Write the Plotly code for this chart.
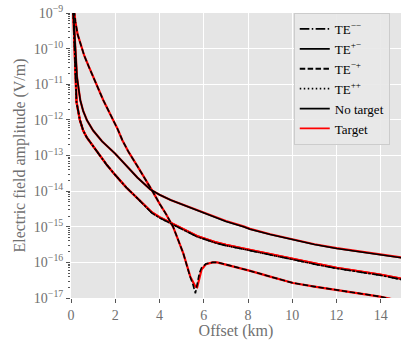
import plotly.graph_objects as go

# Offsets (km) and log10 amplitudes
x_mp = [0.1, 0.15, 0.2, 0.3, 0.42, 0.6, 0.8, 1.0, 1.25, 1.46, 1.7, 1.91, 2.1, 2.32, 2.6, 3.0, 3.3,
        3.66, 4.0, 4.3, 4.62, 5.07, 5.39, 5.5, 5.62, 5.7, 5.8, 5.9, 6.1, 6.4, 6.6, 7.0, 7.33, 8.1,
        9.0, 10.04, 11.0, 12.0, 13.0, 13.96, 15.0]
te_mp_nt = [-8.7, -9.0, -9.25, -9.6, -9.85, -10.2, -10.5, -10.8, -11.15, -11.45, -11.75, -12.01,
            -12.25, -12.57, -12.9, -13.3, -13.6, -13.98, -14.35, -14.65, -15.01, -15.74, -16.42,
            -16.6, -16.87, -16.6, -16.3, -16.15, -16.04, -16.0, -16.0, -16.06, -16.12, -16.24,
            -16.4, -16.58, -16.68, -16.78, -16.88, -16.96, -17.1]
te_mp_t = [-8.7, -9.0, -9.25, -9.6, -9.85, -10.2, -10.5, -10.8, -11.15, -11.45, -11.75, -12.01,
           -12.25, -12.57, -12.9, -13.3, -13.6, -13.98, -14.35, -14.65, -15.01, -15.74, -16.4,
           -16.55, -16.68, -16.7, -16.42, -16.2, -16.05, -16.0, -16.0, -16.06, -16.12, -16.24,
           -16.4, -16.58, -16.68, -16.78, -16.88, -16.96, -17.1]

x_pm = [0.1, 0.15, 0.2, 0.27, 0.35, 0.42, 0.55, 0.72, 1.0, 1.4, 2.0, 2.5, 3.0, 3.58, 4.0, 4.5,
        5.0, 5.69, 7.0, 7.79, 8.09, 9.0, 10.05, 11.0, 12.0, 13.0, 13.96, 15.0]
te_pm_nt = [-8.9, -9.5, -10.2, -10.79, -11.15, -11.45, -11.75, -12.01, -12.3, -12.6, -12.95, -13.3,
            -13.62, -13.95, -14.1, -14.25, -14.37, -14.53, -14.85, -15.0, -15.07, -15.22, -15.37,
            -15.5, -15.61, -15.7, -15.78, -15.88]
te_pm_t = [-8.9, -9.5, -10.2, -10.79, -11.15, -11.45, -11.75, -12.01, -12.3, -12.6, -12.95, -13.3,
           -13.62, -13.95, -14.1, -14.25, -14.37, -14.52, -14.84, -14.99, -15.06, -15.21, -15.36,
           -15.49, -15.6, -15.69, -15.77, -15.87]

x_pp = [0.1, 0.13, 0.17, 0.19, 0.25, 0.4, 0.55, 0.72, 0.95, 1.3, 1.6, 2.0, 2.5, 3.0, 3.3, 3.66,
        4.0, 4.63, 5.0, 5.69, 6.5, 7.0, 7.79, 8.09, 9.0, 10.05, 11.0, 12.0, 13.0, 13.96, 15.0]
te_pp_nt = [-8.9, -9.5, -10.3, -10.9, -11.5, -12.0, -12.3, -12.5, -12.7, -13.0, -13.25, -13.55,
            -13.9, -14.2, -14.38, -14.62, -14.75, -14.95, -15.08, -15.28, -15.45, -15.53, -15.63,
            -15.67, -15.8, -15.93, -16.05, -16.17, -16.27, -16.36, -16.49]
te_pp_t = [-8.9, -9.5, -10.3, -10.9, -11.5, -12.0, -12.3, -12.5, -12.7, -13.0, -13.25, -13.55,
           -13.9, -14.2, -14.38, -14.6, -14.73, -14.93, -15.06, -15.26, -15.43, -15.51, -15.61,
           -15.65, -15.78, -15.91, -16.03, -16.15, -16.25, -16.34, -16.47]
te_mm_nt = te_pp_nt
te_mm_t = te_pp_t

y_exps = list(range(-17, -8))
x_ticks = [0, 2, 4, 6, 8, 10, 12, 14]

FONT = "Liberation Serif"
GREY = "#707070"

def amp(v):
    return [10 ** e for e in v]

curves = [
    ("TE<sup>\u2212\u2212</sup>", x_pp, te_mm_nt, te_mm_t, "9.6px,2.4px,1.5px,2.4px"),
    ("TE<sup>+\u2212</sup>", x_pm, te_pm_nt, te_pm_t, "solid"),
    ("TE<sup>\u2212+</sup>", x_mp, te_mp_nt, te_mp_t, "5.5px,2.4px"),
    ("TE<sup>++</sup>", x_pp, te_pp_nt, te_pp_t, "1.5px,2.5px"),
]

fig = go.Figure()
for name, xs, nt, t, dash in curves:
    fig.add_trace(go.Scatter(x=xs, y=amp(t), mode="lines", showlegend=False,
                             line=dict(color="red", width=2.2), hoverinfo="skip"))
for name, xs, nt, t, dash in curves:
    fig.add_trace(go.Scatter(x=xs, y=amp(nt), mode="lines", showlegend=False,
                             line=dict(color="black", width=1.6, dash=dash)))
for name, xs, nt, t, dash in curves:
    fig.add_trace(go.Scatter(x=[None], y=[None], mode="lines", name=name,
                             line=dict(color="black", width=1.8, dash=dash)))
fig.add_trace(go.Scatter(x=[None], y=[None], mode="lines", name="No target",
                         line=dict(color="black", width=1.8)))
fig.add_trace(go.Scatter(x=[None], y=[None], mode="lines", name="Target",
                         line=dict(color="red", width=1.8)))

minor_vals = [k * 10.0 ** e for e in range(-17, -9) for k in range(2, 10)]

fig.update_layout(
    width=401, height=340,
    margin=dict(l=71, r=0, t=13, b=42),
    paper_bgcolor="white", plot_bgcolor="#E5E5E5",
    font=dict(family=FONT, size=13, color=GREY),
    legend=dict(x=0.675, y=1.0, xanchor="left", yanchor="top",
                bgcolor="rgba(232,232,232,0.9)", bordercolor="#cccccc", borderwidth=1,
                font=dict(family=FONT, size=13, color="black"), tracegroupgap=0,
                itemwidth=30),
    showlegend=True,
)
fig.update_xaxes(range=[0, 14.91], tickvals=x_ticks, ticktext=[str(v) for v in x_ticks],
                 showgrid=True, gridcolor="white", gridwidth=1.2, zeroline=False,
                 ticks="outside", ticklen=4, tickcolor="#555555",
                 title=dict(text="Offset (km)", font=dict(size=16, color=GREY), standoff=6),
                 tickfont=dict(size=14, color=GREY))
fig.update_yaxes(type="log", range=[-17, -9],
                 tickvals=[10.0 ** e for e in y_exps],
                 ticktext=["10<sup>\u2212%d</sup>" % (-e) for e in y_exps],
                 showgrid=True, gridcolor="white", gridwidth=1.2, zeroline=False,
                 ticks="outside", ticklen=4, tickcolor="#555555",
                 minor=dict(tickvals=minor_vals, ticks="outside", ticklen=2,
                            tickcolor="#555555", showgrid=False),
                 title=dict(text="Electric field amplitude (V/m)", font=dict(size=16, color=GREY),
                            standoff=4),
                 tickfont=dict(size=14, color=GREY))

fig.write_html("out.html")
